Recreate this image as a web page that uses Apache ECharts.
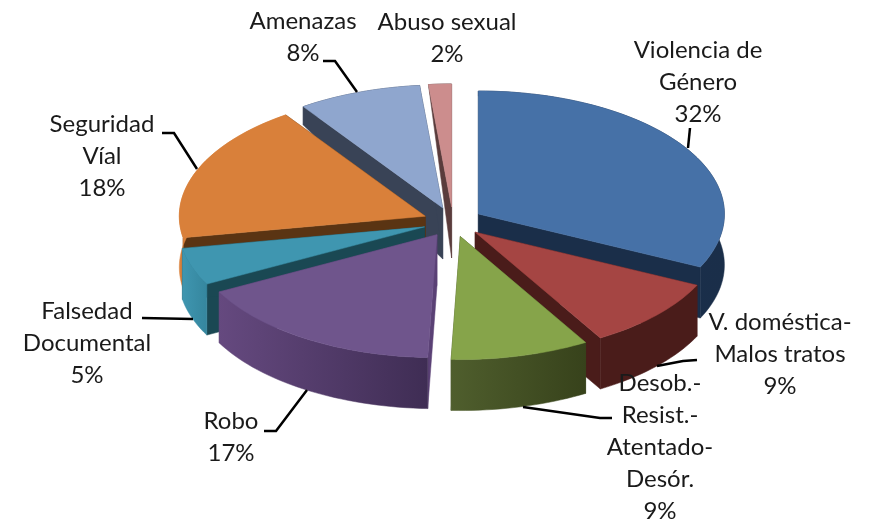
<!DOCTYPE html>
<html>
<head>
<meta charset="utf-8">
<style>
  html, body { margin: 0; padding: 0; background: #fff; }
  #main { width: 870px; height: 521px; }
</style>
</head>
<body>
<div id="main"></div>
<script src="https://cdn.jsdelivr.net/npm/echarts@6/dist/echarts.min.js"></script>
<script>
// data
var categories = ['Violencia de\nGénero', 'V. doméstica-\nMalos tratos', 'Desob.-\nResist.-\nAtentado-\nDesór.', 'Robo',
  'Falsedad\nDocumental', 'Seguridad\nVíal', 'Amenazas', 'Abuso sexual'];
var values = [32.1, 9.4, 9.1, 16.7, 4.9, 18.2, 8.1, 1.5];

// colours per slice
var topColors = ['#4671a7', '#a54543', '#86a44a', '#6f558c', '#3f96b0', '#d9803a', '#8fa6ce', '#cc8d8d'];
var edgeColors = ['#1a2e49', '#4a1c1a', '#3a451d', '#5a4175', '#1a4853', '#5a3413', '#394356', '#5a3c3c'];
var wallLeft = ['#1a3050', '#4a1c1a', '#4f5e2d', '#65497f', '#3f96b0', '#d9803a', '#394356', '#5a3c3c'];
var wallRight = ['#1a2e49', '#4a1c1a', '#37421b', '#3f2d54', '#35869e', '#d07a36', '#394356', '#5a3c3c'];

// label anchors (centre x, top y) and leader lines
var labelPos = [[698, 34], [780, 306], [660, 367], [231, 405], [87, 295], [102, 108], [303, 5], [447, 6]];
var leaders = [
  [[690, 128], [688, 148]],
  [[657, 366], [683, 361], [697, 360]],
  [[523, 407], [600, 418], [612, 418]],
  [[307, 390], [276, 431], [264, 431]],
  [[193, 319], [142, 318]],
  [[197, 169], [174, 133], [162, 133]],
  [[357, 92], [335, 61], [323, 61]]
];

// pie geometry
var CX = 453, CY = 222, RX = 246, RY = 123, EXPLODE = 0.122, DEPTH = 51;
var total = values.reduce(function (a, b) { return a + b; }, 0);

function depthAt(y) {
  return DEPTH * Math.min(1, Math.max(0, (y - 85) / 60));
}

var slices = [];
var acc = 0;
values.forEach(function (v, i) {
  var start = acc / total * Math.PI * 2;
  acc += v;
  var end = acc / total * Math.PI * 2;
  slices.push({ index: i, start: start, end: end, mid: (start + end) / 2 });
});
// back slices are painted first
var drawOrder = slices.slice().sort(function (a, b) { return Math.cos(b.mid) - Math.cos(a.mid); });

function renderSlice(params, api) {
  var s = drawOrder[api.value(0)];
  var ox = CX + Math.sin(s.mid) * RX * EXPLODE;
  var oy = CY - Math.cos(s.mid) * RY * EXPLODE;
  var arc = [];
  var steps = Math.max(2, Math.ceil((s.end - s.start) / 0.03));
  for (var k = 0; k <= steps; k++) {
    var t = s.start + (s.end - s.start) * k / steps;
    arc.push([ox + Math.sin(t) * RX, oy - Math.cos(t) * RY]);
  }
  var down = function (p) { return [p[0], p[1] + depthAt(p[1])]; };
  var apex = [ox, oy];
  var first = arc[0], last = arc[arc.length - 1];
  var i = s.index;
  var wallFill = new echarts.graphic.LinearGradient(0, 0, 1, 0, [
    { offset: 0, color: wallLeft[i] }, { offset: 1, color: wallRight[i] }
  ]);
  var poly = function (points, fill) {
    return { type: 'polygon', shape: { points: points }, style: { fill: fill, stroke: fill, lineWidth: 0.5 } };
  };
  return {
    type: 'group',
    children: [
      poly([apex, first, down(first), down(apex)], edgeColors[i]),
      poly([apex, last, down(last), down(apex)], edgeColors[i]),
      poly(arc.concat(arc.map(down).reverse()), wallFill),
      poly([apex].concat(arc), topColors[i])
    ]
  };
}

var graphics = [];
categories.forEach(function (name, i) {
  graphics.push({
    type: 'text',
    z: 10,
    x: labelPos[i][0],
    y: labelPos[i][1],
    style: {
      text: name + '\n' + Math.round(values[i]) + '%',
      font: '24px Lato',
      lineHeight: 32,
      fill: '#1a1a1a',
      align: 'center',
      verticalAlign: 'top'
    }
  });
});
leaders.forEach(function (pts) {
  graphics.push({
    type: 'polyline',
    z: 9,
    shape: { points: pts },
    style: { stroke: '#000', lineWidth: 2.5, fill: null }
  });
});

var option = {
  backgroundColor: '#fff',
  animation: false,
  graphic: graphics,
  series: [{
    type: 'custom',
    coordinateSystem: 'none',
    silent: true,
    clip: false,
    renderItem: renderSlice,
    data: drawOrder.map(function (s, k) { return [k]; })
  }]
};
echarts.init(document.getElementById('main')).setOption(option);
</script>
</body>
</html>
